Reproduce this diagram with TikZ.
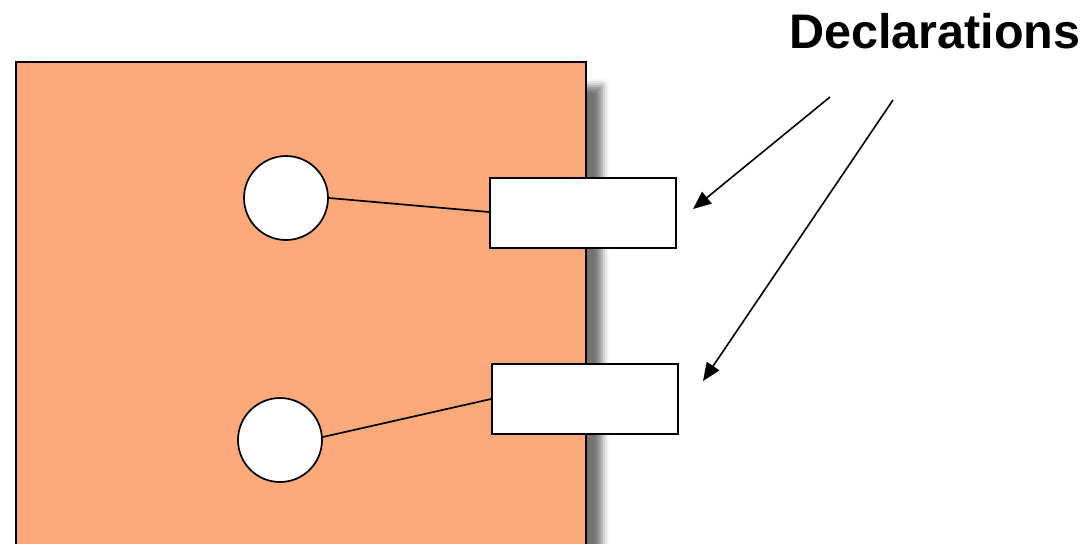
\documentclass[tikz,border=0pt]{standalone}
\usepackage{fontspec}
\setmainfont{Liberation Sans}
\usetikzlibrary{arrows.meta,shadows.blur}
\definecolor{panel}{RGB}{252,170,122}
\begin{document}
\begin{tikzpicture}[x=1pt,y=-1pt,
  line/.style={line width=1.7pt},
  port/.style={draw,line width=1.7pt,fill=white,minimum width=186pt,minimum height=70pt,inner sep=0pt},
  hole/.style={circle,draw,line width=1.7pt,fill=white,minimum size=84pt,inner sep=0pt},
  pointer/.style={line width=1.6pt,-{Triangle[length=18pt,width=15pt]}}]
\useasboundingbox (0,0) rectangle (1080,544);
\clip (0,0) rectangle (1080,544);
\node[draw,line width=1.7pt,fill=panel,minimum width=570pt,minimum height=520pt,inner sep=0pt,anchor=north west,
  blur shadow={shadow xshift=16pt,shadow yshift=-24pt,shadow blur radius=7pt,shadow opacity=55}] (panel) at (15,61) {};
\node[hole] (c1) at (286,198) {};
\node[hole] (c2) at (280,440) {};
\node[port,anchor=north west] (r1) at (489,177) {};
\node[port,anchor=north west] (r2) at (491,363) {};
\draw[line] (c1.east) -- (r1.west |- 0,212);
\draw[line] (c2.east) ++(0,-3) -- (r2.west |- 0,399);
\node[font=\bfseries\fontsize{48.5}{56}\selectfont,anchor=base west,inner sep=0pt] (title) at (789,48) {Declarations};
\coordinate (a1s) at (830,97);
\coordinate (a1e) at (693,209);
\coordinate (a2s) at (893,100);
\coordinate (a2e) at (703,381);
\draw[pointer] (a1s) -- (a1e);
\draw[pointer] (a2s) -- (a2e);
\end{tikzpicture}
\end{document}
